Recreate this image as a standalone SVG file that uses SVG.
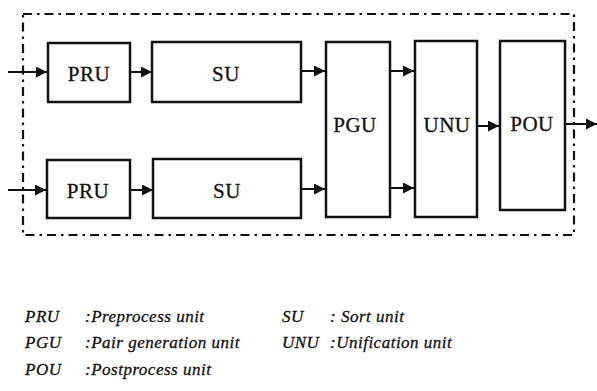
<svg xmlns="http://www.w3.org/2000/svg" width="597" height="391" viewBox="0 0 597 391">
<style>
.box{fill:#fff;stroke:#111;stroke-width:2.5}
.lbl{font-family:"Liberation Serif",serif;font-size:21px;fill:#111;text-anchor:middle;letter-spacing:0.5px;stroke:#111;stroke-width:0.3}
.leg{font-family:"Liberation Serif",serif;font-style:italic;font-size:17px;fill:#111;letter-spacing:0.5px;stroke:#111;stroke-width:0.3}
.conn line{stroke:#111;stroke-width:2}
.border{fill:none;stroke:#111;stroke-width:2.2;stroke-dasharray:9 5 2.5 5}
</style>
<defs>
<marker id="ah" viewBox="0 0 10 10" refX="10" refY="5" markerWidth="11" markerHeight="11" markerUnits="userSpaceOnUse" orient="auto">
<path d="M0,0 L10,5 L0,10 Z" fill="#111"/>
</marker>
</defs>
<rect class="border" x="23" y="14" width="551" height="221"/>
<g id="pru1"><rect class="box" x="48" y="43" width="82" height="59"/><text class="lbl" x="89" y="81">PRU</text></g>
<g id="su1"><rect class="box" x="152" y="42" width="149" height="60"/><text class="lbl" x="226" y="81">SU</text></g>
<g id="pru2"><rect class="box" x="47" y="160" width="83" height="58"/><text class="lbl" x="88" y="198">PRU</text></g>
<g id="su2"><rect class="box" x="153" y="159" width="148" height="59"/><text class="lbl" x="227" y="198">SU</text></g>
<g id="pgu"><rect class="box" x="326" y="42" width="64" height="175"/><text class="lbl" x="355" y="132">PGU</text></g>
<g id="unu"><rect class="box" x="415" y="41" width="62" height="176"/><text class="lbl" x="447" y="132">UNU</text></g>
<g id="pou"><rect class="box" x="500" y="41" width="65" height="169"/><text class="lbl" x="532" y="131">POU</text></g>
<g class="conn">
<line x1="8" y1="72" x2="47" y2="72" marker-end="url(#ah)"/>
<line x1="130" y1="72" x2="152" y2="72" marker-end="url(#ah)"/>
<line x1="301" y1="71" x2="325" y2="71" marker-end="url(#ah)"/>
<line x1="8" y1="190" x2="46" y2="190" marker-end="url(#ah)"/>
<line x1="130" y1="190" x2="153" y2="190" marker-end="url(#ah)"/>
<line x1="301" y1="189" x2="325" y2="189" marker-end="url(#ah)"/>
<line x1="390" y1="71" x2="414" y2="71" marker-end="url(#ah)"/>
<line x1="390" y1="188" x2="414" y2="188" marker-end="url(#ah)"/>
<line x1="477" y1="126" x2="499" y2="126" marker-end="url(#ah)"/>
<line x1="565" y1="124" x2="597" y2="124" marker-end="url(#ah)"/>
</g>
<g id="legend">
<text class="leg" x="25" y="322">PRU</text>
<text class="leg" x="85" y="322">:Preprocess unit</text>
<text class="leg" x="282" y="322">SU</text>
<text class="leg" x="330" y="322">: Sort unit</text>
<text class="leg" x="25" y="348">PGU</text>
<text class="leg" x="85" y="348">:Pair generation unit</text>
<text class="leg" x="282" y="348">UNU</text>
<text class="leg" x="330" y="348">:Unification unit</text>
<text class="leg" x="25" y="375">POU</text>
<text class="leg" x="85" y="375">:Postprocess unit</text>
</g>
</svg>
